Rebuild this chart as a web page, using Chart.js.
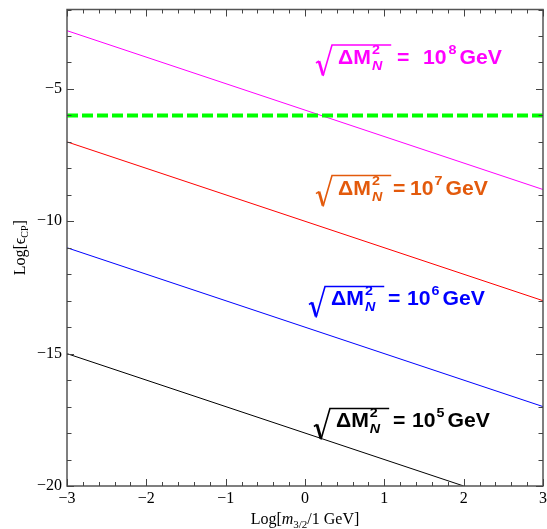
<!DOCTYPE html>
<html><head><meta charset="utf-8">
<script src="https://cdn.jsdelivr.net/npm/chart.js@4/dist/chart.umd.min.js"></script>
<style>html,body{margin:0;padding:0;background:#fff}#wrap{width:547px;height:529px}</style>
</head><body><div id="wrap"><canvas id="c" width="547" height="529"></canvas></div>
<script>
// ---- data ----
const lineX = [-3, 3];
const magentaY = [-2.8, -8.8];
const redY = [-7, -13];
const blueY = [-11, -17];
const blackX = [-3, 2];
const blackY = [-15, -20];
const greenY = [-6, -6];
const xTickLabels = [-3, -2, -1, 0, 1, 2, 3];
const yTickLabels = [-5, -10, -15, -20];
const massExponents = ['8', '7', '6', '5'];

const pts = (xs, ys) => xs.map((x, i) => ({x: x, y: ys[i]}));

// label styling (anchor in data coords, offsets in px)
const labelStyle = [
  {x: 0.126, y: -4.06, color: '#FF00FF', eq: 82, ten: 108, sp: 2},
  {x: 0.126, y: -8.99, color: '#E35A0C', eq: 78, ten: 95, sp: 1},
  {x: 0.038, y: -13.18, color: '#0000FF', eq: 80, ten: 99, sp: 1},
  {x: 0.100, y: -17.79, color: '#000000', eq: 80, ten: 99, sp: 1}
];

const serif = '"Liberation Serif", "Times New Roman", serif';
const minus = v => String(v).replace('-', '\u2212');

function stretchText(ctx, t, x, y, sx) {
  ctx.save(); ctx.translate(x, y); ctx.scale(sx, 1); ctx.fillText(t, 0, 0); ctx.restore();
  return ctx.measureText(t).width * sx;
}

function drawMassLabel(ctx, x0, base, color, exp, eqOff, tenOff, sp) {
  ctx.save();
  ctx.fillStyle = color; ctx.strokeStyle = color;
  ctx.textBaseline = 'alphabetic'; ctx.textAlign = 'left';
  const SX = 1.06;
  const big = 'bold 20px "Liberation Sans", Arial, sans-serif';
  const small = 'bold 13.5px "Liberation Sans", Arial, sans-serif';
  ctx.font = big;
  let x = x0 + 23;
  const wDM = stretchText(ctx, '\u0394M', x, base, SX);
  const mEnd = x + wDM;
  ctx.font = small;
  const wSup = stretchText(ctx, '2', mEnd + 1, base - 10, SX);
  ctx.font = 'italic ' + small;
  const wSub = stretchText(ctx, 'N', mEnd + 1, base + 6, SX);
  const barEnd = mEnd + 1 + Math.max(wSup, wSub) + 9;
  // radical
  ctx.lineJoin = 'miter'; ctx.lineCap = 'butt';
  ctx.lineWidth = 1.6;
  ctx.beginPath();
  ctx.moveTo(x0 + 1, base - 1); ctx.lineTo(x0 + 4, base - 3);
  ctx.stroke();
  ctx.lineWidth = 2.8;
  ctx.beginPath();
  ctx.moveTo(x0 + 4, base - 3); ctx.lineTo(x0 + 8, base + 11);
  ctx.stroke();
  ctx.lineWidth = 1.6;
  ctx.beginPath();
  ctx.moveTo(x0 + 8, base + 12); ctx.lineTo(x0 + 17, base - 19); ctx.lineTo(barEnd, base - 19);
  ctx.stroke();
  // = 10^exp GeV
  ctx.font = big;
  stretchText(ctx, '=', x0 + eqOff, base, SX);
  const wTen = stretchText(ctx, '10', x0 + tenOff, base, SX);
  ctx.font = small;
  const expX = x0 + tenOff + wTen + sp;
  const wExp = stretchText(ctx, exp, expX, base - 10, SX);
  ctx.font = big;
  stretchText(ctx, 'GeV', expX + wExp + 3, base, SX);
  ctx.restore();
}

const framePlugin = {
  id: 'frame',
  afterDatasetsDraw(chart) {
    const ctx = chart.ctx, a = chart.chartArea;
    const xs = chart.scales.x, ys = chart.scales.y;
    ctx.save();
    ctx.strokeStyle = '#555'; ctx.lineWidth = 1.5;
    ctx.strokeRect(a.left, a.top, a.right - a.left, a.bottom - a.top);
    ctx.lineWidth = 1;
    ctx.strokeStyle = '#444';
    ctx.beginPath();
    // x ticks (minor every 0.2, major every 1)
    for (let i = -15; i <= 15; i++) {
      const v = i / 5;
      const px = Math.round(xs.getPixelForValue(v)) + 0.5;
      const len = (i % 5 === 0) ? 7 : 4;
      ctx.moveTo(px, a.bottom); ctx.lineTo(px, a.bottom - len);
      ctx.moveTo(px, a.top); ctx.lineTo(px, a.top + len);
    }
    // y ticks (minor every 1, major every 5)
    for (let v = -20; v <= -2; v++) {
      const py = Math.round(ys.getPixelForValue(v)) + 0.5;
      const len = (v % 5 === 0) ? 7 : 4.5;
      ctx.moveTo(a.left, py); ctx.lineTo(a.left + len, py);
      ctx.moveTo(a.right, py); ctx.lineTo(a.right - len, py);
    }
    ctx.stroke();
    ctx.restore();
  },
  afterDraw(chart) {
    const ctx = chart.ctx, a = chart.chartArea;
    const xs = chart.scales.x, ys = chart.scales.y;
    // tick labels
    ctx.save();
    ctx.fillStyle = '#000';
    ctx.font = '16px ' + serif;
    ctx.textAlign = 'center'; ctx.textBaseline = 'top';
    xTickLabels.forEach(v => ctx.fillText(minus(v), xs.getPixelForValue(v), a.bottom + 5));
    ctx.textAlign = 'right'; ctx.textBaseline = 'middle';
    yTickLabels.forEach(v => ctx.fillText(minus(v), a.left - 5, ys.getPixelForValue(v)));
    ctx.restore();
    // annotation labels
    labelStyle.forEach((s, i) => {
      drawMassLabel(ctx, xs.getPixelForValue(s.x), ys.getPixelForValue(s.y), s.color,
        massExponents[i], s.eq, s.ten, s.sp);
    });
    // x title
    ctx.save();
    ctx.fillStyle = '#000'; ctx.textBaseline = 'alphabetic'; ctx.textAlign = 'left';
    const parts = [
      ['Log[', '16px ' + serif, 0],
      ['m', 'italic 16px ' + serif, 0],
      ['3/2', '11px ' + serif, 4],
      ['/1 GeV]', '16px ' + serif, 0]
    ];
    let total = 0;
    parts.forEach(p => { ctx.font = p[1]; total += ctx.measureText(p[0]).width; });
    let x = (a.left + a.right) / 2 - total / 2;
    const by = 524;
    parts.forEach(p => { ctx.font = p[1]; ctx.fillText(p[0], x, by + p[2]); x += ctx.measureText(p[0]).width; });
    ctx.restore();
    // y title
    ctx.save();
    ctx.fillStyle = '#000'; ctx.textBaseline = 'alphabetic'; ctx.textAlign = 'left';
    ctx.translate(25, (a.top + a.bottom) / 2);
    ctx.rotate(-Math.PI / 2);
    const yparts = [
      ['Log[', '16px ' + serif, 0],
      ['\u03F5', '16px ' + serif, 0],
      ['CP', '10px ' + serif, 3],
      [']', '16px ' + serif, 0]
    ];
    total = 0;
    yparts.forEach(p => { ctx.font = p[1]; total += ctx.measureText(p[0]).width; });
    x = -total / 2;
    yparts.forEach(p => { ctx.font = p[1]; ctx.fillText(p[0], x, p[2]); x += ctx.measureText(p[0]).width; });
    ctx.restore();
  }
};

new Chart(document.getElementById('c'), {
  type: 'line',
  data: {
    datasets: [
      {data: pts(lineX, greenY), borderColor: '#00FF00', borderWidth: 4, borderDash: [11, 4]},
      {data: pts(lineX, magentaY), borderColor: '#FF00FF', borderWidth: 1},
      {data: pts(lineX, redY), borderColor: '#FF0000', borderWidth: 1},
      {data: pts(lineX, blueY), borderColor: '#0000FF', borderWidth: 1},
      {data: pts(blackX, blackY), borderColor: '#000000', borderWidth: 1}
    ]
  },
  options: {
    responsive: false,
    animation: false,
    devicePixelRatio: 1,
    layout: {padding: {top: 9.5, right: 4, left: 0, bottom: 0}},
    elements: {point: {radius: 0}, line: {tension: 0}},
    plugins: {legend: {display: false}, tooltip: {enabled: false}},
    scales: {
      x: {
        type: 'linear', min: -3, max: 3,
        grid: {display: false, drawTicks: false}, border: {display: false},
        ticks: {display: false, stepSize: 1},
        afterFit: s => { s.height = 43; }
      },
      y: {
        type: 'linear', min: -20, max: -2,
        grid: {display: false, drawTicks: false}, border: {display: false},
        ticks: {display: false, stepSize: 1},
        afterFit: s => { s.width = 67; }
      }
    }
  },
  plugins: [framePlugin]
});
</script>
</body></html>
